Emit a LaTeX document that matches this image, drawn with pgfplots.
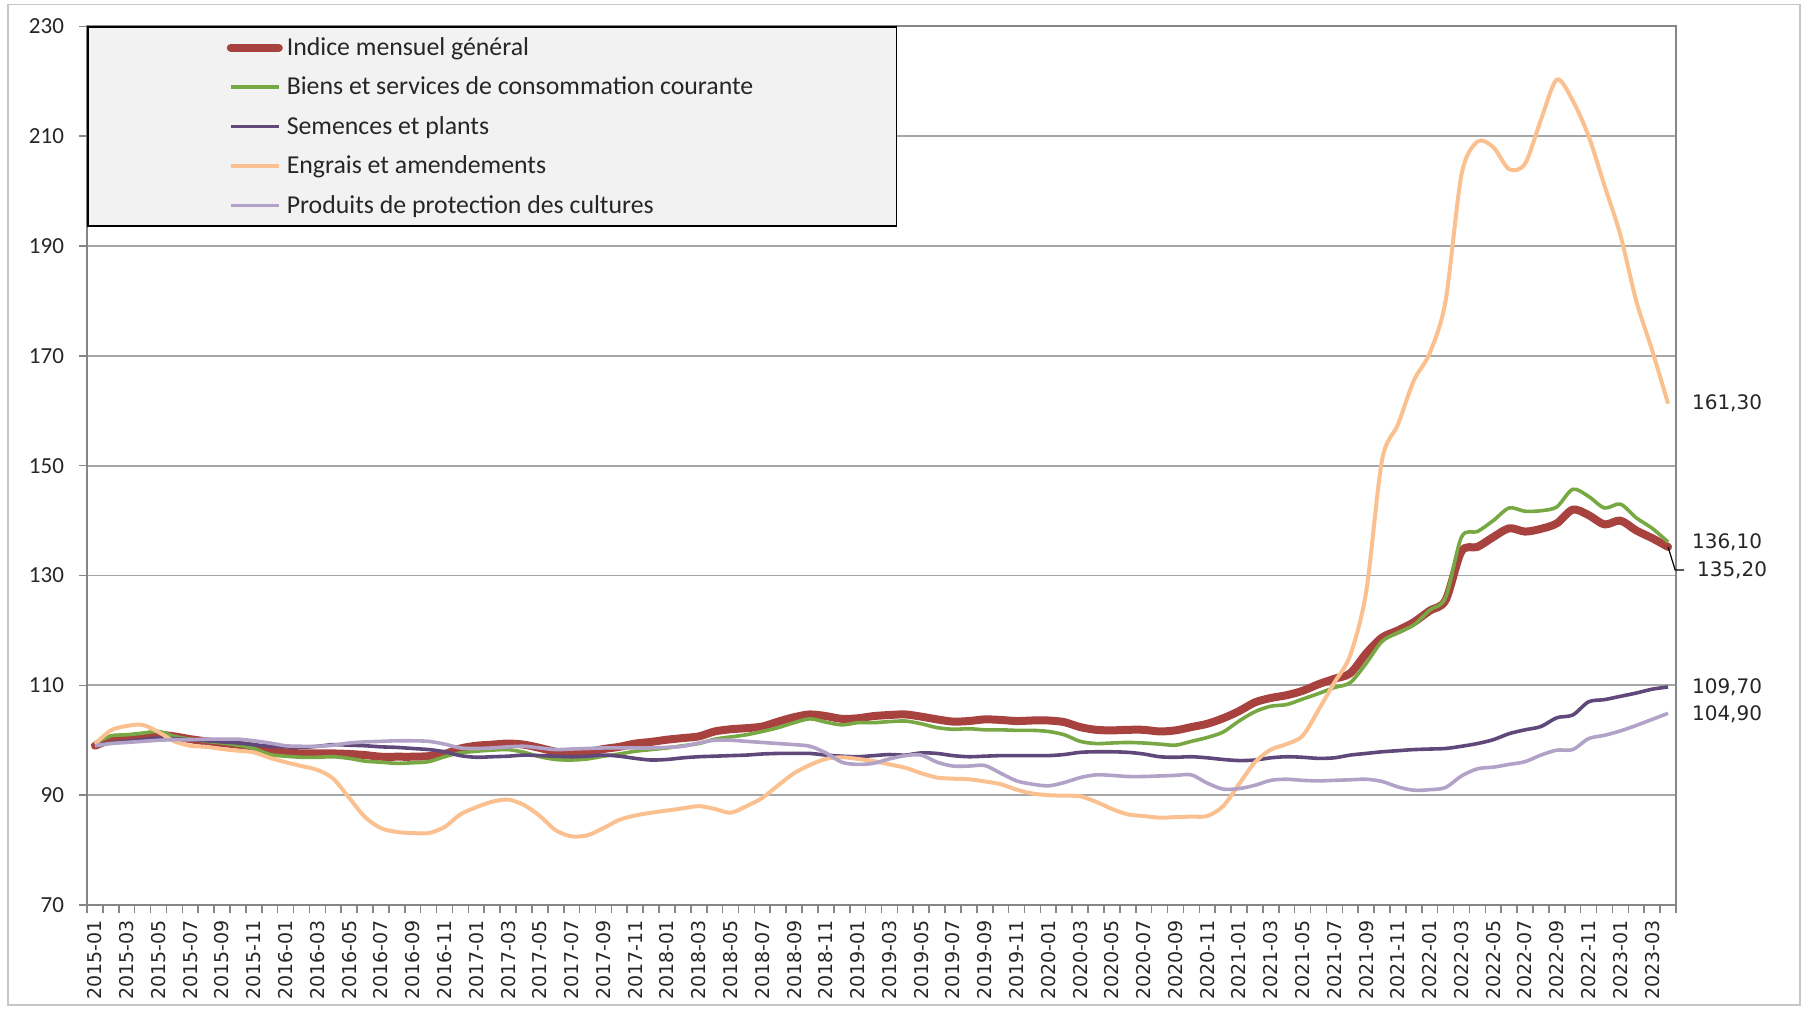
\documentclass[border=0pt]{standalone}
\usepackage{pgfplots}
\pgfplotsset{compat=1.18}
\usepackage{pgfplotstable}
\usepackage{fontspec}
\setmainfont{Carlito}
\newfontfamily\dejavu{DejaVu Sans}
\definecolor{cInd}{HTML}{A8423F}
\definecolor{cBie}{HTML}{77A843}
\definecolor{cSem}{HTML}{60497A}
\definecolor{cEng}{HTML}{FAC090}
\definecolor{cPro}{HTML}{B3A2C7}
\definecolor{cGrid}{HTML}{A6A6A6}
\definecolor{cAxis}{HTML}{868686}
\definecolor{cText}{HTML}{262626}
\pgfplotstableread{
i ind bie sem eng pro
0 99.0 99.5 99.0 99.3 99.0
1 100.1 100.8 99.5 101.8 99.4
2 100.4 101.0 99.8 102.6 99.6
3 100.7 101.3 100.1 102.8 99.8
4 101.0 101.6 100.4 101.5 100.0
5 100.7 100.7 100.3 99.8 100.1
6 100.2 100.2 100.1 99.0 100.1
7 99.8 99.8 99.9 98.8 100.2
8 99.5 99.5 99.7 98.4 100.2
9 99.2 99.1 99.5 98.1 100.2
10 98.8 98.5 99.2 97.8 99.9
11 98.0 97.4 98.9 96.8 99.5
12 97.8 97.1 98.8 96.0 99.0
13 97.6 96.9 98.7 95.3 98.9
14 97.6 96.9 98.9 94.6 98.9
15 97.6 97.0 99.2 93.0 99.1
16 97.5 96.7 99.1 89.5 99.5
17 97.3 96.2 99.0 86.0 99.7
18 97.0 96.0 98.8 84.0 99.8
19 97.0 95.8 98.7 83.3 99.9
20 97.0 95.9 98.5 83.1 99.9
21 97.1 96.1 98.3 83.1 99.8
22 97.5 97.0 97.9 84.2 99.3
23 98.5 97.7 97.2 86.5 98.6
24 99.0 98.0 96.9 87.8 98.5
25 99.2 98.2 97.0 88.8 98.6
26 99.4 98.3 97.1 89.2 98.8
27 99.2 97.8 97.3 88.2 98.9
28 98.6 97.0 97.2 86.2 98.6
29 97.9 96.5 97.1 83.6 98.3
30 97.6 96.4 97.0 82.5 98.4
31 97.8 96.6 97.1 82.7 98.5
32 98.4 97.1 97.3 84.0 98.6
33 98.8 97.5 97.1 85.5 98.6
34 99.4 98.0 96.7 86.3 98.6
35 99.7 98.3 96.4 86.8 98.6
36 100.1 98.6 96.5 87.2 98.7
37 100.4 99.0 96.8 87.6 98.9
38 100.7 99.4 97.0 88.0 99.5
39 101.6 100.2 97.1 87.5 100.0
40 102.0 100.6 97.2 86.8 100.0
41 102.2 101.0 97.3 88.0 99.8
42 102.5 101.6 97.5 89.5 99.6
43 103.4 102.3 97.6 91.8 99.4
44 104.2 103.2 97.6 94.0 99.2
45 104.7 103.9 97.6 95.5 98.9
46 104.4 103.3 97.3 96.6 97.7
47 103.9 102.8 97.1 96.9 96.0
48 104.0 103.2 97.0 96.6 95.6
49 104.4 103.2 97.2 96.2 95.8
50 104.6 103.4 97.4 95.6 96.6
51 104.7 103.5 97.3 95.0 97.2
52 104.3 103.0 97.7 94.0 97.3
53 103.8 102.3 97.6 93.2 96.0
54 103.4 102.0 97.2 93.0 95.3
55 103.5 102.1 97.0 92.9 95.3
56 103.8 101.9 97.1 92.5 95.4
57 103.7 101.9 97.2 92.0 94.0
58 103.5 101.8 97.2 91.0 92.6
59 103.6 101.8 97.2 90.3 92.0
60 103.6 101.6 97.2 90.0 91.7
61 103.3 101.0 97.4 89.9 92.3
62 102.4 99.8 97.8 89.8 93.2
63 101.9 99.4 97.9 88.8 93.7
64 101.8 99.5 97.9 87.5 93.6
65 101.9 99.6 97.8 86.5 93.4
66 101.9 99.5 97.5 86.2 93.4
67 101.6 99.3 97.0 85.9 93.5
68 101.8 99.1 96.9 86.0 93.6
69 102.4 99.8 97.0 86.1 93.7
70 103.0 100.5 96.8 86.2 92.2
71 104.0 101.5 96.5 88.0 91.1
72 105.3 103.5 96.3 92.0 91.2
73 106.9 105.2 96.4 96.0 91.8
74 107.7 106.2 96.8 98.3 92.7
75 108.2 106.5 97.0 99.3 92.9
76 109.0 107.5 96.9 100.8 92.7
77 110.2 108.5 96.7 105.5 92.6
78 111.2 109.6 96.8 110.5 92.7
79 112.2 110.5 97.3 115.5 92.8
80 115.8 114.0 97.6 127.0 92.9
81 118.7 118.0 97.9 151.0 92.5
82 120.0 119.6 98.1 157.5 91.5
83 121.5 121.0 98.3 165.5 90.9
84 123.6 123.7 98.4 170.5 91.0
85 125.5 126.0 98.5 180.0 91.4
86 134.4 137.0 98.9 203.0 93.5
87 135.2 138.0 99.4 209.0 94.8
88 137.0 140.0 100.1 208.0 95.1
89 138.6 142.3 101.2 204.0 95.6
90 138.0 141.7 101.9 205.0 96.1
91 138.5 141.8 102.5 213.0 97.3
92 139.5 142.5 104.1 220.3 98.2
93 142.0 145.7 104.6 216.5 98.3
94 141.0 144.4 107.0 210.0 100.3
95 139.3 142.3 107.4 201.0 100.9
96 140.0 143.0 108.0 192.0 101.7
97 138.2 140.5 108.6 180.0 102.7
98 136.8 138.6 109.3 171.0 103.8
99 135.2 136.1 109.7 161.3 104.9
}\data
\begin{document}
\begin{tikzpicture}
\useasboundingbox (-43.5pt,-52.5pt) rectangle (859pt,452.5pt);
\draw[gray!45, line width=0.9pt] (-39.5pt,-50pt) rectangle (856.5pt,450.2pt);
\begin{axis}[
  at={(0,0)}, anchor=south west, scale only axis,
  width=794.5pt, height=439.3pt,
  xmin=-0.5, xmax=99.5, ymin=70, ymax=230,
  axis line style={draw=cAxis, line width=0.9pt},
  ytick={70,90,...,230},
  ymajorgrids, grid style={draw=cGrid, line width=0.9pt},
  xtick={-0.5,0.5,...,99.5}, xticklabels={},
  extra x ticks={0,2,...,98},
  extra x tick labels={2015-01,2015-03,2015-05,2015-07,2015-09,2015-11,
    2016-01,2016-03,2016-05,2016-07,2016-09,2016-11,
    2017-01,2017-03,2017-05,2017-07,2017-09,2017-11,
    2018-01,2018-03,2018-05,2018-07,2018-09,2018-11,
    2019-01,2019-03,2019-05,2019-07,2019-09,2019-11,
    2020-01,2020-03,2020-05,2020-07,2020-09,2020-11,
    2021-01,2021-03,2021-05,2021-07,2021-09,2021-11,
    2022-01,2022-03,2022-05,2022-07,2022-09,2022-11,
    2023-01,2023-03},
  extra x tick style={tick style={draw=none}, grid=none},
  tick align=outside, tick pos=left,
  major tick length=4pt,
  tick style={draw=cAxis, line width=0.8pt},
  xticklabel style={rotate=90, anchor=east, font=\dejavu\fontsize{9.5}{11}\selectfont, text=cText},
  yticklabel style={font=\fontsize{11.5}{13}\selectfont, text=cText, xshift=-4pt},
  /pgf/number format/assume math mode=true,
  clip=false,
  legend style={at={(0,1)}, anchor=north west, fill=black!5, draw=black, line width=0.8pt,
    inner xsep=69.5pt, inner ysep=3pt, row sep=5.3pt,
    font=\fontsize{12.9}{15}\selectfont, text=cText},
  legend cell align=left,
  legend image code/.code={\draw[#1] (0pt,0pt) -- (24pt,0pt);},
]
\addplot[cInd, line width=4pt, smooth, tension=0.5, line cap=round, line join=round] table[x=i,y=ind] {\data};
\addlegendentry{Indice mensuel général}
\addplot[cBie, line width=1.8pt, smooth, tension=0.5] table[x=i,y=bie] {\data};
\addlegendentry{Biens et services de consommation courante}
\addplot[cSem, line width=1.8pt, smooth, tension=0.5] table[x=i,y=sem] {\data};
\addlegendentry{Semences et plants}
\addplot[cEng, line width=2pt, smooth, tension=0.5] table[x=i,y=eng] {\data};
\addlegendentry{Engrais et amendements}
\addplot[cPro, line width=1.8pt, smooth, tension=0.5] table[x=i,y=pro] {\data};
\addlegendentry{Produits de protection des cultures}
\draw[black, line width=0.6pt] (axis cs:99,135.2) -- (axis cs:99.45,131) -- ([xshift=4pt]axis cs:99.5,131);
\begin{scope}[font=\dejavu\fontsize{10}{12}\selectfont, text=cText]
\node[anchor=west] at ([xshift=4.5pt]axis cs:99.5,161.3) {161,30};
\node[anchor=west] at ([xshift=4.5pt]axis cs:99.5,136.1) {136,10};
\node[anchor=west] at ([xshift=7pt]axis cs:99.5,131.0) {135,20};
\node[anchor=west] at ([xshift=4.5pt]axis cs:99.5,109.7) {109,70};
\node[anchor=west] at ([xshift=4.5pt]axis cs:99.5,104.8) {104,90};
\end{scope}
\end{axis}
\end{tikzpicture}
\end{document}
